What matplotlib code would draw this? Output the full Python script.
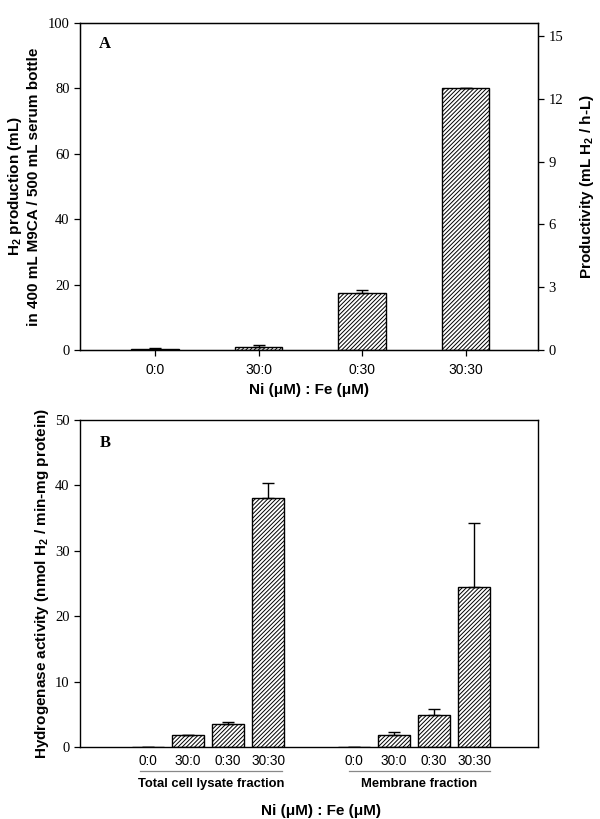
import matplotlib
matplotlib.use("Agg")
import matplotlib.pyplot as plt
import numpy as np

plt.rcParams['hatch.linewidth'] = 0.7

# Panel A data
cats_a = ["0:0", "30:0", "0:30", "30:30"]
prod_a = [0.2, 1.0, 17.5, 80.0]
err_a = [0.3, 0.6, 0.8, 0.2]

# Panel B data
cats_b = ["0:0", "30:0", "0:30", "30:30"]
lysate_b = [0.0, 1.8, 3.5, 38.0]
lysate_err = [0.0, 0.0, 0.3, 2.4]
membrane_b = [0.0, 1.8, 4.95, 24.5]
membrane_err = [0.0, 0.5, 0.9, 9.8]
groups_b = ["Total cell lysate fraction", "Membrane fraction"]

serif = "Liberation Serif"
sans = "Liberation Sans"
TICK_SERIF = 10.5
LABEL = 11
HATCH = "////////"

fig = plt.figure(figsize=(6.0, 8.19), dpi=100)
W, H = 600, 819

def ax_rect(x0, y0, x1, y1):
    return [x0 / W, 1 - y1 / H, (x1 - x0) / W, (y1 - y0) / H]

# ---------- Panel A ----------
axA = fig.add_axes(ax_rect(80, 23, 538, 350))
xa = np.arange(len(cats_a))
axA.bar(xa, prod_a, width=0.455, color="white", edgecolor="black", linewidth=1.0,
        hatch=HATCH, zorder=2)
axA.errorbar(xa, prod_a, yerr=[np.zeros(len(err_a)), err_a], fmt="none",
             ecolor="black", elinewidth=1.0, capsize=4, capthick=1.0, zorder=3)
axA.set_xlim(-0.725, 3.70)
axA.set_ylim(0, 100)
axA.set_yticks([0, 20, 40, 60, 80, 100])
axA.set_xticks(xa)
axA.set_xticklabels(cats_a)
for lab in axA.get_xticklabels():
    lab.set_fontfamily(sans)
    lab.set_fontsize(10)
for lab in axA.get_yticklabels():
    lab.set_fontfamily(serif)
    lab.set_fontsize(TICK_SERIF)
axA.tick_params(axis="both", direction="out", length=4, width=0.9)
axA.tick_params(axis="x", pad=5)
axA.set_ylabel("H$_\\mathregular{2}$ production (mL)\nin 400 mL M9CA / 500 mL serum bottle",
               fontfamily=sans, fontweight="bold", fontsize=LABEL, labelpad=5, linespacing=1.25)
axA.set_xlabel("Ni (\u03bcM) : Fe (\u03bcM)", fontfamily=sans, fontweight="bold",
               fontsize=LABEL, labelpad=5)
for s in axA.spines.values():
    s.set_linewidth(1.0)
axA.text(0.055, 0.935, "A", transform=axA.transAxes, fontfamily=serif,
         fontweight="bold", fontsize=12, va="center", ha="center")

axA2 = axA.twinx()
axA2.set_ylim(0, 15.62)
axA2.set_yticks([0, 3, 6, 9, 12, 15])
for lab in axA2.get_yticklabels():
    lab.set_fontfamily(serif)
    lab.set_fontsize(TICK_SERIF)
axA2.tick_params(axis="y", direction="out", length=4, width=0.9)
axA2.set_ylabel("Productivity (mL H$_\\mathregular{2}$ / h-L)", fontfamily=sans,
                fontweight="bold", fontsize=LABEL, labelpad=11)

# ---------- Panel B ----------
axB = fig.add_axes(ax_rect(80, 420, 538, 747))
xl = np.arange(len(cats_b))
xm = xl + 5.15
for xs, vals, errs in [(xl, lysate_b, lysate_err), (xm, membrane_b, membrane_err)]:
    axB.bar(xs, vals, width=0.78, color="white", edgecolor="black", linewidth=1.0,
            hatch=HATCH, zorder=2)
    axB.errorbar(xs, vals, yerr=[np.zeros(len(errs)), errs], fmt="none",
                 ecolor="black", elinewidth=1.0, capsize=4, capthick=1.0, zorder=3)
axB.set_xlim(-1.7, 9.75)
axB.set_ylim(0, 50)
axB.set_yticks([0, 10, 20, 30, 40, 50])
axB.set_xticks(np.concatenate([xl, xm]))
axB.set_xticklabels(cats_b + cats_b)
for lab in axB.get_xticklabels():
    lab.set_fontfamily(sans)
    lab.set_fontsize(9.8)
for lab in axB.get_yticklabels():
    lab.set_fontfamily(serif)
    lab.set_fontsize(TICK_SERIF)
axB.tick_params(axis="y", direction="out", length=4, width=0.9)
axB.tick_params(axis="x", length=0, pad=5)
axB.set_ylabel("Hydrogenase activity (nmol H$_\\mathregular{2}$ / min-mg protein)",
               fontfamily=sans, fontweight="bold", fontsize=LABEL, labelpad=3)
for s in axB.spines.values():
    s.set_linewidth(1.0)
axB.text(0.055, 0.93, "B", transform=axB.transAxes, fontfamily=serif,
         fontweight="bold", fontsize=12, va="center", ha="center")

# group underlines and labels (figure pixel coords)
def fx(px):
    return px / W
def fy(py):
    return 1 - py / H

for (x0, x1), name in zip([(140, 282), (349, 490)], groups_b):
    fig.add_artist(plt.Line2D([fx(x0), fx(x1)], [fy(771), fy(771)],
                              color="#888888", linewidth=0.9))
    fig.text(fx((x0 + x1) / 2), fy(784), name, fontfamily=sans, fontweight="bold",
             fontsize=9.4, ha="center", va="center")

fig.text(fx(321), fy(811), "Ni (\u03bcM) : Fe (\u03bcM)", fontfamily=sans,
         fontweight="bold", fontsize=LABEL, ha="center", va="center")

fig.savefig("out.png", dpi=100)
